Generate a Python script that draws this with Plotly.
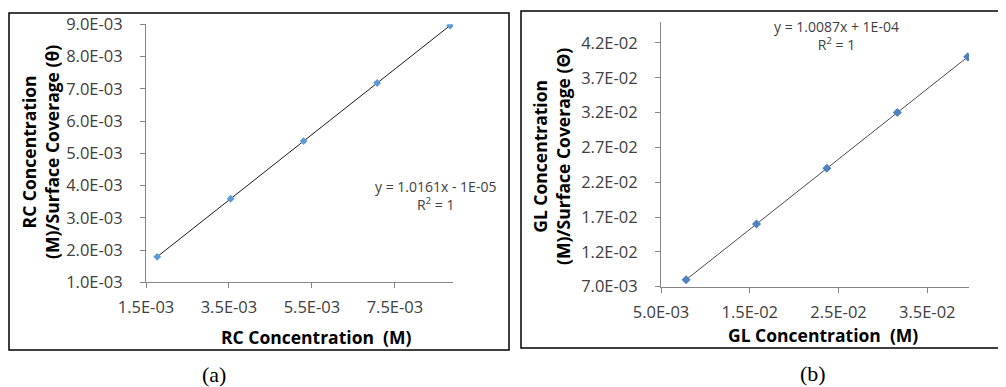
import numpy as np
import plotly.graph_objects as go

# ---- data (panel a: RC) ----
rc_x = [1.77e-3, 3.54e-3, 5.30e-3, 7.07e-3, 8.83e-3]
rc_y = [1.79e-3, 3.59e-3, 5.38e-3, 7.18e-3, 8.96e-3]
rc_xticks = [1.5e-3, 3.5e-3, 5.5e-3, 7.5e-3]
rc_xlabels = ["1.5E-03", "3.5E-03", "5.5E-03", "7.5E-03"]
rc_yticks = [1e-3, 2e-3, 3e-3, 4e-3, 5e-3, 6e-3, 7e-3, 8e-3, 9e-3]
rc_ylabels = ["1.0E-03", "2.0E-03", "3.0E-03", "4.0E-03", "5.0E-03",
              "6.0E-03", "7.0E-03", "8.0E-03", "9.0E-03"]

# ---- data (panel b: GL) ----
gl_x = [0.783e-2, 1.576e-2, 2.369e-2, 3.163e-2, 3.956e-2]
gl_y = [0.80e-2, 1.60e-2, 2.40e-2, 3.20e-2, 4.00e-2]
gl_xticks = [5e-3, 1.5e-2, 2.5e-2, 3.5e-2]
gl_xlabels = ["5.0E-03", "1.5E-02", "2.5E-02", "3.5E-02"]
gl_yticks = [7e-3, 1.2e-2, 1.7e-2, 2.2e-2, 2.7e-2, 3.2e-2, 3.7e-2, 4.2e-2]
gl_ylabels = ["7.0E-03", "1.2E-02", "1.7E-02", "2.2E-02", "2.7E-02",
              "3.2E-02", "3.7E-02", "4.2E-02"]

W, H = 1006, 387
OFF = 8  # page body margin offset
def px(x): return (x - OFF) / W
def py(y): return 1 - (y - OFF) / H

fig = go.Figure()

def trend(xs, ys):
    k, b = np.polyfit(xs, ys, 1)
    xx = np.array([min(xs), max(xs)])
    return xx, k * xx + b

tx, ty = trend(rc_x, rc_y)
fig.add_trace(go.Scatter(x=tx, y=ty, mode="lines", line=dict(color="#1a1a1a", width=1),
                         xaxis="x", yaxis="y", showlegend=False, hoverinfo="skip"))
fig.add_trace(go.Scatter(x=rc_x, y=rc_y, mode="markers",
                         marker=dict(symbol="diamond", size=6, color="#5B9BD5"),
                         xaxis="x", yaxis="y", showlegend=False))

tx2, ty2 = trend(gl_x, gl_y)
fig.add_trace(go.Scatter(x=tx2, y=ty2, mode="lines", line=dict(color="#4a4a4a", width=1),
                         xaxis="x2", yaxis="y2", showlegend=False, hoverinfo="skip"))
fig.add_trace(go.Scatter(x=gl_x, y=gl_y, mode="markers",
                         marker=dict(symbol="diamond", size=7, color="#4F81BD"),
                         xaxis="x2", yaxis="y2", showlegend=False))

FONT = "Open Sans"
tickfont = dict(family=FONT, size=16.5, color="#404040")
axcommon = dict(showgrid=False, zeroline=False, showline=True, linecolor="#868686",
                linewidth=1, ticks="outside", ticklen=5, tickcolor="#868686",
                tickfont=tickfont, tickmode="array", automargin=False)

fig.update_layout(
    template="none",
    width=W, height=H, margin=dict(l=0, r=0, t=0, b=0, pad=0), autosize=False,
    paper_bgcolor="white", plot_bgcolor="white",
    xaxis=dict(domain=[px(146), px(453)], range=[1.5e-3, 8.9e-3], anchor="y",
               tickvals=rc_xticks, ticktext=rc_xlabels, ticklabelstandoff=5, **axcommon),
    yaxis=dict(domain=[py(282.3), py(24.3)], range=[1e-3, 9e-3], anchor="x",
               tickvals=rc_yticks, ticktext=rc_ylabels, ticklabelstandoff=14, **axcommon),
    xaxis2=dict(domain=[px(661), px(969)], range=[5e-3, 3.97e-2], anchor="y2",
                tickvals=gl_xticks, ticktext=gl_xlabels, ticklabelstandoff=5, **axcommon),
    yaxis2=dict(domain=[py(286.7), py(22)], range=[7e-3, 4.5e-2], anchor="x2",
                tickvals=gl_yticks, ticktext=gl_ylabels, ticklabelstandoff=14, **axcommon),
)

# frames
fig.add_shape(type="rect", xref="paper", yref="paper", x0=px(9), x1=px(509),
              y0=py(350), y1=py(13), line=dict(color="black", width=1.5))
fig.add_shape(type="rect", xref="paper", yref="paper", x0=px(521), x1=px(1005),
              y0=py(348), y1=py(11), line=dict(color="black", width=1.5))

titlefont = dict(family=FONT, size=17.5, color="black")
def ann(x, y, text, font, angle=0, align="center"):
    fig.add_annotation(xref="paper", yref="paper", x=px(x), y=py(y), text=text,
                       showarrow=False, font=font, textangle=angle, align=align,
                       xanchor="center", yanchor="middle")

ann(40, 152, "<b>RC Concentration<br>(M)/Surface Coverage (θ)</b>", titlefont, angle=-90)
ann(316, 337, "<b>RC Concentration  (M)</b>", titlefont)
ann(552, 157, "<b>GL Concentration<br>(M)/Surface Coverage (Θ)</b>", titlefont, angle=-90)
ann(823, 335, "<b>GL Concentration  (M)</b>", titlefont)

eqfont = dict(family=FONT, size=14, color="#404040")
ann(435, 195, "y = 1.0161x - 1E-05<br>R<sup>2</sup> = 1", eqfont)
ann(836, 35, "y = 1.0087x + 1E-04<br>R<sup>2</sup> = 1", eqfont)

capfont = dict(family="Liberation Serif", size=22, color="black")
ann(214, 374, "(a)", capfont)
ann(813, 373, "(b)", capfont)

fig.write_html("out.html")
